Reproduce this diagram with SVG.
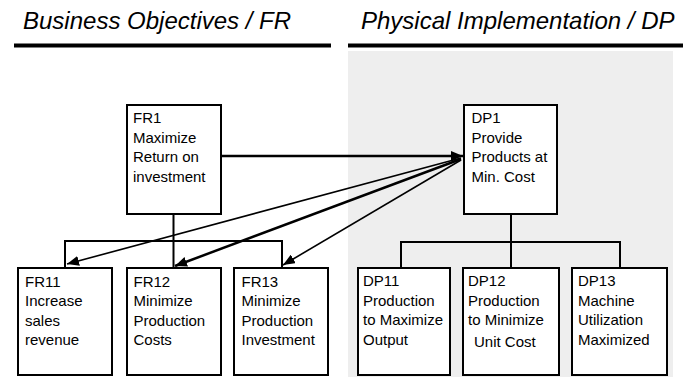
<svg xmlns="http://www.w3.org/2000/svg" width="696" height="377" viewBox="0 0 696 377">
<defs>
<style>
.hdr{font-family:"Liberation Sans",Arial,sans-serif;font-style:italic;font-size:24px;fill:#000}
.t{font-family:"Liberation Sans",Arial,sans-serif;font-size:15px;fill:#000}
.box{fill:#fff;stroke:#000;stroke-width:2}
.ln{fill:none;stroke:#000;stroke-width:2.5}
.tree{fill:none;stroke:#000;stroke-width:2}
.diag{fill:none;stroke:#000;stroke-width:1.6}
</style>
<marker id="ah" viewBox="0 0 12 10" refX="12" refY="5" markerWidth="12" markerHeight="10" markerUnits="userSpaceOnUse" orient="auto">
<path d="M0,0 L12,5 L0,10 Z" fill="#000"/>
</marker>
</defs>
<rect x="0" y="0" width="696" height="377" fill="#fff"/>
<rect x="348" y="51" width="325" height="326" fill="#eeeeee"/>
<g id="headers">
<text class="hdr" x="23" y="29">Business Objectives / FR</text>
<text class="hdr" x="361" y="29">Physical Implementation / DP</text>
<line x1="14" y1="45.5" x2="331" y2="45.5" stroke="#000" stroke-width="4"/>
<line x1="348" y1="45.5" x2="683" y2="45.5" stroke="#000" stroke-width="4"/>
</g>
<g id="connectors">
<polyline class="tree" points="65,268 65,241 282,241 282,268"/>
<line class="tree" x1="173.5" y1="214" x2="173.5" y2="268"/>
<polyline class="tree" points="401,268 401,242 620,242 620,268"/>
<line class="tree" x1="511" y1="214" x2="511" y2="268"/>
<line class="ln" x1="221" y1="156" x2="463" y2="156" marker-end="url(#ah)"/>
<line class="diag" x1="461" y1="158" x2="67" y2="264" marker-end="url(#ah)"/>
<line class="ln" x1="461" y1="159" x2="175" y2="266" marker-end="url(#ah)"/>
<line class="diag" x1="461" y1="160" x2="283" y2="265" marker-end="url(#ah)"/>
</g>
<g id="FR1">
<rect class="box" x="127" y="105" width="94" height="109"/>
<text class="t" x="133" y="123">FR1</text>
<text class="t" x="133" y="142.5">Maximize</text>
<text class="t" x="133" y="162">Return on</text>
<text class="t" x="133" y="181.5">investment</text>
</g>
<g id="DP1">
<rect class="box" x="464" y="105" width="93" height="109"/>
<text class="t" x="471.5" y="123">DP1</text>
<text class="t" x="471.5" y="142.5">Provide</text>
<text class="t" x="471.5" y="162">Products at</text>
<text class="t" x="471.5" y="181.5">Min. Cost</text>
</g>
<g id="FR11">
<rect class="box" x="18" y="268" width="94" height="107"/>
<text class="t" x="25" y="286.5">FR11</text>
<text class="t" x="25" y="306">Increase</text>
<text class="t" x="25" y="325.5">sales</text>
<text class="t" x="25" y="345">revenue</text>
</g>
<g id="FR12">
<rect class="box" x="127" y="268" width="94" height="107"/>
<text class="t" x="133.5" y="286.5">FR12</text>
<text class="t" x="133.5" y="306">Minimize</text>
<text class="t" x="133.5" y="325.5">Production</text>
<text class="t" x="133.5" y="345">Costs</text>
</g>
<g id="FR13">
<rect class="box" x="234" y="268" width="94" height="107"/>
<text class="t" x="241.5" y="286.5">FR13</text>
<text class="t" x="241.5" y="306">Minimize</text>
<text class="t" x="241.5" y="325.5">Production</text>
<text class="t" x="241.5" y="345">Investment</text>
</g>
<g id="DP11">
<rect class="box" x="358" y="268" width="92" height="107"/>
<text class="t" x="363" y="286">DP11</text>
<text class="t" x="363" y="305.5">Production</text>
<text class="t" x="363" y="325">to Maximize</text>
<text class="t" x="363" y="344.5">Output</text>
</g>
<g id="DP12">
<rect class="box" x="463" y="268" width="96" height="107"/>
<text class="t" x="468" y="286">DP12</text>
<text class="t" x="468" y="305.5">Production</text>
<text class="t" x="468" y="325">to Minimize</text>
<text class="t" x="474" y="346.5">Unit Cost</text>
</g>
<g id="DP13">
<rect class="box" x="572" y="268" width="95" height="107"/>
<text class="t" x="578" y="286">DP13</text>
<text class="t" x="578" y="305.5">Machine</text>
<text class="t" x="578" y="325">Utilization</text>
<text class="t" x="578" y="344.5">Maximized</text>
</g>
</svg>
